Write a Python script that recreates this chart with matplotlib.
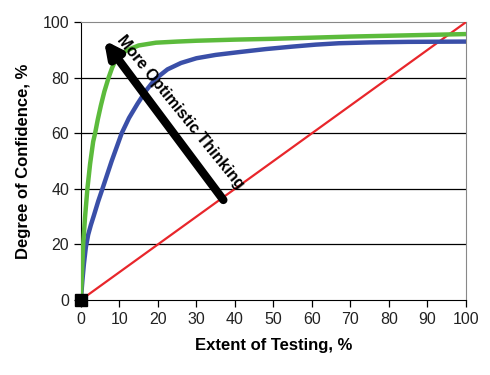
import matplotlib.pyplot as plt

plt.rcParams['font.family'] = ['Liberation Sans', 'DejaVu Sans']

# curves
green_x = [0, 0.3, 0.6, 1.1, 1.7, 2.4, 3.2, 3.7, 4.4, 5.2, 6.1, 7.2, 8.1, 9.1, 10.5, 12.5,
           15, 19.5, 25, 30, 40, 50, 60, 70, 80, 90, 100]
green_y = [0, 10, 20, 30, 40, 49, 57, 60, 65, 70, 75, 80, 83.5, 86.6, 88.7, 90.2,
           91.6, 92.6, 93.0, 93.3, 93.7, 94.0, 94.4, 94.8, 95.1, 95.4, 95.7]
blue_x = [0, 0.4, 0.8, 1.3, 1.9, 2.6, 3.4, 4.5, 5.6, 6.8, 8, 9.3, 10.6, 12.5, 14.7, 17,
          19.3, 22.5, 26, 30, 35, 41, 48, 55, 61, 67, 75, 85, 100]
blue_y = [0, 7, 13, 19, 23.5, 27, 30.5, 35.5, 40, 45, 50, 55, 60, 65.5, 70.6, 75.5,
          79.5, 83, 85.3, 87, 88.2, 89.2, 90.3, 91.2, 91.9, 92.4, 92.7, 92.9, 93.0]
red_x = [0, 100]
red_y = [0, 100]

xticks = list(range(0, 101, 10))
yticks = list(range(0, 101, 20))

fig = plt.figure(figsize=(4.9, 3.75), dpi=100)
ax = fig.add_axes([0.165, 0.2, 0.786, 0.741])

for y in yticks[1:-1]:
    ax.axhline(y, color='black', lw=0.9, zorder=1)

ax.plot(red_x, red_y, color='#e8262b', lw=1.6, zorder=3)
ax.plot(blue_x, blue_y, color='#3a4fa8', lw=3.2, zorder=4,
        solid_capstyle='butt', solid_joinstyle='round')
ax.plot(green_x, green_y, color='#5cbb3c', lw=3.2, zorder=4,
        solid_capstyle='butt', solid_joinstyle='round')
ax.plot([0], [0], marker='s', ms=8, color='black', clip_on=False, zorder=6)

ax.annotate('', xy=(6, 93.5), xytext=(37, 36),
            arrowprops=dict(arrowstyle='-|>,head_width=0.45,head_length=0.9',
                            lw=6, color='black', shrinkA=0, shrinkB=0), zorder=5)
ax.text(25.8, 67.5, 'More Optimistic Thinking', rotation=-51, rotation_mode='anchor',
        ha='center', va='center', fontsize=11.5, fontweight='bold', zorder=5)

ax.set_xlim(0, 100)
ax.set_ylim(0, 100)
ax.set_xticks(xticks)
ax.set_yticks(yticks)
ax.tick_params(labelsize=11.5, length=5, width=0.9, colors='black', labelcolor='#222222')
ax.spines['top'].set_color('#888888')
ax.spines['right'].set_color('#888888')
ax.set_xlabel('Extent of Testing, %', fontsize=12, fontweight='bold', labelpad=8)
ax.set_ylabel('Degree of Confidence, %', fontsize=12, fontweight='bold', labelpad=8)

plt.savefig('out.png', dpi=100)
